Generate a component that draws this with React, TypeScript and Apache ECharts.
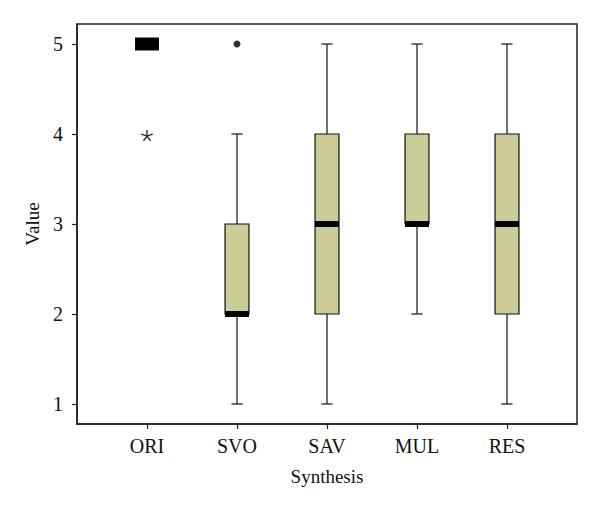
import React, { useEffect, useRef } from "react";
import * as echarts from "echarts";

const categories = ["ORI", "SVO", "SAV", "MUL", "RES"];
const minValues = [5, 1, 1, 2, 1];
const q1Values = [5, 2, 2, 3, 2];
const medianValues = [5, 2, 3, 3, 3];
const q3Values = [5, 3, 4, 4, 4];
const maxValues = [5, 4, 5, 5, 5];
// outliers: [category index, value]
const outlierPoints = [[1, 5]];
const extremePoints = [[0, 4]];
const yTicks = [1, 2, 3, 4, 5];

const FONT = "'Liberation Serif', 'Times New Roman', serif";

export default function App() {
  const ref = useRef<HTMLDivElement>(null);
  useEffect(() => {
    if (!ref.current) return;
    const chart = echarts.init(ref.current, null, { renderer: "svg" });
    const positions = categories.map((_, i) => i + 1);
    const boxData = categories.map((_, i) => [
      positions[i],
      minValues[i],
      q1Values[i],
      medianValues[i],
      q3Values[i],
      maxValues[i],
    ]);
    const lineStyle = { stroke: "#333", lineWidth: 1.4 };
    const option: any = {
      animation: false,
      backgroundColor: "#fff",
      grid: {
        left: 69,
        top: 16,
        width: 500,
        height: 400,
        show: true,
        borderColor: "#222",
        borderWidth: 1.5,
        backgroundColor: "transparent",
      },
      xAxis: {
        type: "value",
        min: 2 / 9,
        max: 5 + 7 / 9,
        name: "Synthesis",
        nameLocation: "middle",
        nameGap: 43,
        nameTextStyle: { fontFamily: FONT, fontSize: 19, color: "#111" },
        axisLine: { show: true, lineStyle: { color: "#222", width: 1.5 } },
        axisTick: {
          show: true,
          customValues: positions,
          length: 5,
          lineStyle: { color: "#222", width: 1.2 },
        },
        axisLabel: {
          customValues: positions,
          formatter: (v: number) => categories[Math.round(v) - 1] ?? "",
          margin: 12,
          fontFamily: FONT,
          fontSize: 20,
          color: "#111",
        },
        splitLine: { show: false },
      },
      yAxis: {
        type: "value",
        min: 7 / 9,
        max: 5 + 2 / 9,
        name: "Value",
        nameLocation: "middle",
        nameGap: 35,
        nameTextStyle: { fontFamily: FONT, fontSize: 19, color: "#111" },
        axisLine: { show: true, lineStyle: { color: "#222", width: 1.5 } },
        axisTick: {
          show: true,
          customValues: yTicks,
          length: 5,
          lineStyle: { color: "#222", width: 1.2 },
        },
        axisLabel: {
          customValues: yTicks,
          margin: 14,
          fontFamily: FONT,
          fontSize: 20,
          color: "#111",
        },
        splitLine: { show: false },
      },
      series: [
        {
          type: "custom",
          data: boxData,
          renderItem: (params: any, api: any) => {
            const x = api.value(0);
            const band = api.size([1, 0])[0];
            const half = band * 0.133;
            const capHalf = band * 0.062;
            const pMin = api.coord([x, api.value(1)]);
            const pQ1 = api.coord([x, api.value(2)]);
            const pMed = api.coord([x, api.value(3)]);
            const pQ3 = api.coord([x, api.value(4)]);
            const pMax = api.coord([x, api.value(5)]);
            const cx = pMed[0];
            const children: any[] = [];
            if (Math.abs(pQ1[1] - pQ3[1]) < 0.5) {
              children.push({
                type: "rect",
                shape: { x: cx - half, y: pMed[1] - 6.5, width: half * 2, height: 13 },
                style: { fill: "#000" },
              });
              return { type: "group", children };
            }
            if (pMax[1] < pQ3[1]) {
              children.push({
                type: "line",
                shape: { x1: cx, y1: pMax[1], x2: cx, y2: pQ3[1] },
                style: lineStyle,
              });
              children.push({
                type: "line",
                shape: { x1: cx - capHalf, y1: pMax[1], x2: cx + capHalf, y2: pMax[1] },
                style: lineStyle,
              });
            }
            if (pMin[1] > pQ1[1]) {
              children.push({
                type: "line",
                shape: { x1: cx, y1: pQ1[1], x2: cx, y2: pMin[1] },
                style: lineStyle,
              });
              children.push({
                type: "line",
                shape: { x1: cx - capHalf, y1: pMin[1], x2: cx + capHalf, y2: pMin[1] },
                style: lineStyle,
              });
            }
            children.push({
              type: "rect",
              shape: { x: cx - half, y: pQ3[1], width: half * 2, height: pQ1[1] - pQ3[1] },
              style: { fill: "#cccc99", stroke: "#111", lineWidth: 1.2 },
            });
            children.push({
              type: "rect",
              shape: { x: cx - half, y: pMed[1] - 3, width: half * 2, height: 6 },
              style: { fill: "#000" },
            });
            return { type: "group", children };
          },
          z: 2,
        },
        {
          type: "scatter",
          data: outlierPoints.map(([i, v]) => [positions[i], v]),
          symbol: "circle",
          symbolSize: 7,
          itemStyle: { color: "#000" },
          z: 3,
        },
        {
          type: "custom",
          data: extremePoints.map(([i, v]) => [positions[i], v]),
          renderItem: (params: any, api: any) => {
            const p = api.coord([api.value(0), api.value(1)]);
            const cx = p[0];
            const cy = p[1] + 2;
            const r = 6;
            const st = { stroke: "#222", lineWidth: 1.3 };
            const arms: any[] = [];
            for (let k = 0; k < 5; k++) {
              const a = -Math.PI / 2 + (k * 2 * Math.PI) / 5;
              arms.push({
                type: "line",
                shape: { x1: cx, y1: cy, x2: cx + r * Math.cos(a), y2: cy + r * Math.sin(a) },
                style: st,
              });
            }
            return { type: "group", children: arms };
          },
          z: 3,
        },
      ],
    };
    chart.setOption(option);
    return () => chart.dispose();
  }, []);
  return <div ref={ref} style={{ width: 600, height: 511 }} />;
}
